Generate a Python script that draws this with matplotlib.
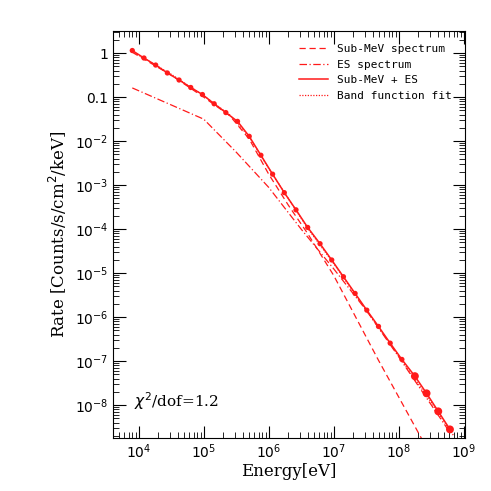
import numpy as np
import matplotlib
matplotlib.use("Agg")
import matplotlib.pyplot as plt
from matplotlib.ticker import LogLocator, FuncFormatter, NullFormatter

# === DATA (log10 values) ===
sum_logx = [3.90, 4.08, 4.26, 4.44, 4.62, 4.80, 4.98, 5.16, 5.34, 5.52, 5.70, 5.88,
            6.06, 6.24, 6.42, 6.60, 6.79, 6.97, 7.15, 7.33, 7.51, 7.69, 7.87, 8.05,
            8.25, 8.43, 8.61, 8.79]
sum_logy = [0.06, -0.11, -0.27, -0.45, -0.61, -0.78, -0.94, -1.15, -1.35, -1.55, -1.89, -2.32,
            -2.75, -3.17, -3.56, -3.96, -4.33, -4.70, -5.08, -5.46, -5.84, -6.21, -6.59, -6.96,
            -7.34, -7.73, -8.14, -8.55]

sub_logx = [3.90, 4.5, 5.0, 5.4, 5.7, 6.0, 6.3, 6.6, 7.0, 7.69, 8.35]
sub_logy = [0.02, -0.50, -1.00, -1.42, -1.95, -2.75, -3.45, -4.10, -5.05, -6.98, -8.75]

es_logx = [3.90, 5.0, 5.5, 6.0, 6.5, 7.0, 7.5, 8.0, 8.79]
es_logy = [-0.79, -1.50, -2.25, -3.05, -4.00, -4.90, -5.84, -6.90, -8.62]

band_logx = [3.90, 4.5, 5.0, 5.4, 5.7, 6.0, 6.3, 6.6, 7.0, 7.5, 8.0, 8.5, 8.85]
band_logy = [0.04, -0.48, -0.97, -1.40, -1.90, -2.62, -3.30, -3.98, -4.78, -5.84, -6.88, -7.93, -8.70]

x_sum = 10.0 ** np.array(sum_logx)
y_sum = 10.0 ** np.array(sum_logy)
red = "#ff1a1a"

fig = plt.figure(figsize=(4.91, 4.91), dpi=100)
ax = fig.add_axes([0.23, 0.108, 0.717, 0.829])

ax.plot(10.0 ** np.array(sub_logx), 10.0 ** np.array(sub_logy), color=red, lw=0.9,
        ls=(0, (5, 3)), label="Sub-MeV spectrum")
ax.plot(10.0 ** np.array(es_logx), 10.0 ** np.array(es_logy), color=red, lw=0.9,
        ls=(0, (6, 2, 1, 2)), label="ES spectrum")
ax.plot(x_sum, y_sum, color=red, lw=1.1, label="Sub-MeV + ES")
ax.plot(10.0 ** np.array(band_logx), 10.0 ** np.array(band_logy), color=red, lw=0.9,
        ls=(0, (1, 1.2)), label="Band function fit")
sizes = np.where(np.array(sum_logx) > 8.1, 6, 4)
ax.scatter(x_sum, y_sum, s=sizes ** 2 * 0.9, color=red, zorder=3, edgecolors="none")

ax.set_xscale("log")
ax.set_yscale("log")
ax.set_xlim(4e3, 1.05e9)
ax.set_ylim(1.8e-9, 3.2)

ax.xaxis.set_major_locator(LogLocator(base=10, numticks=20))
ax.yaxis.set_major_locator(LogLocator(base=10, numticks=20))
ax.xaxis.set_minor_locator(LogLocator(base=10, subs=np.arange(2, 10), numticks=20))
ax.yaxis.set_minor_locator(LogLocator(base=10, subs=np.arange(2, 10), numticks=20))
ax.xaxis.set_minor_formatter(NullFormatter())
ax.yaxis.set_minor_formatter(NullFormatter())


def yfmt(v, pos):
    e = int(round(np.log10(v)))
    if e == 0:
        return "1"
    if e == -1:
        return "0.1"
    return r"$10^{%d}$" % e


ax.yaxis.set_major_formatter(FuncFormatter(yfmt))
ax.xaxis.set_major_formatter(FuncFormatter(lambda v, p: r"$10^{%d}$" % int(round(np.log10(v)))))
ax.tick_params(which="both", direction="in", top=True, right=True, labelsize=10)
ax.tick_params(which="major", length=9)
ax.tick_params(which="minor", length=4)

ax.set_xlabel("Energy[eV]", fontsize=12, family="DejaVu Serif", labelpad=1)
ax.set_ylabel("Rate [Counts/s/cm$^2$/keV]", fontsize=12, family="DejaVu Serif")
ax.text(0.06, 0.075, r"$\chi^2$/dof=1.2", transform=ax.transAxes, fontsize=11,
        family="DejaVu Serif")

ax.legend(loc="upper right", frameon=False, handlelength=2.6,
          borderaxespad=0.8, labelspacing=0.5, prop={"family": "DejaVu Sans Mono", "size": 8})

fig.savefig("out.png", dpi=100)
